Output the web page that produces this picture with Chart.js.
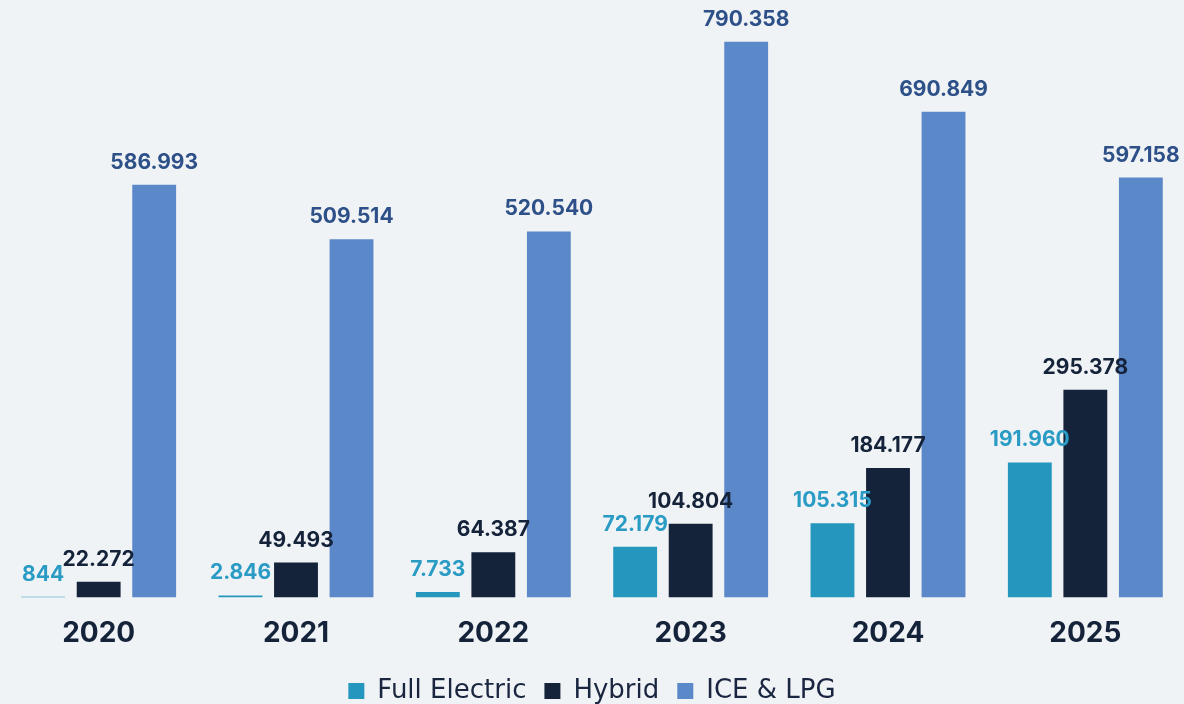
<!DOCTYPE html>
<html>
<head>
<meta charset="utf-8">
<script src="https://cdn.jsdelivr.net/npm/chart.js@4"></script>
<style>
  html, body { margin: 0; padding: 0; background: #eff3f5; }
  #wrap { width: 1184px; height: 704px; }
</style>
</head>
<body>
<div id="wrap"><canvas id="myChart"></canvas></div>
<script>
// values
const years = ['2020', '2021', '2022', '2023', '2024', '2025'];
const fullElectric = [844, 2846, 7733, 72179, 105315, 191960];
const hybrid = [22272, 49493, 64387, 104804, 184177, 295378];
const iceLpg = [586993, 509514, 520540, 790358, 690849, 597158];

const barColors = ['#2596be', '#14223a', '#5b88c8'];
const labelColors = ['#2a9bc4', '#14223a', '#2e5088'];

const fontFamily = 'Inter, "Open Sans", sans-serif';
const legendFont = '"DejaVu Sans", sans-serif';

// 1234567 -> 1.234.567
function fmt(v) {
    return String(v).replace(/\B(?=(\d{3})+(?!\d))/g, '.');
}

const valueLabels = {
    id: 'valueLabels',
    afterDatasetsDraw: (chart) => {
        const {ctx} = chart;
        ctx.save();
        ctx.font = 'bold 21px ' + fontFamily;
        ctx.textAlign = 'center';
        ctx.textBaseline = 'alphabetic';
        chart.data.datasets.forEach((ds, i) => {
            const meta = chart.getDatasetMeta(i);
            ctx.fillStyle = labelColors[i];
            meta.data.forEach((bar, j) => {
                ctx.fillText(fmt(ds.data[j]), bar.x, bar.y - 16);
            });
        });
        ctx.restore();
    }
};

// pull the legend a bit closer to the bottom edge
const legendTrim = {
    id: 'legendTrim',
    beforeInit: (chart) => {
        const origFit = chart.legend.fit;
        chart.legend.fit = function () {
            origFit.bind(chart.legend)();
            this.height -= 10;
        };
    }
};

const data = {
    labels: years,
    datasets: [
        { label: 'Full Electric', data: fullElectric, backgroundColor: barColors[0] },
        { label: 'Hybrid', data: hybrid, backgroundColor: barColors[1] },
        { label: 'ICE & LPG', data: iceLpg, backgroundColor: barColors[2] }
    ]
};

const config = {
    type: 'bar',
    data: data,
    options: {
        responsive: true,
        maintainAspectRatio: false,
        animation: false,
        categoryPercentage: 0.844,
        barPercentage: 0.79,
        layout: { padding: { top: 35, left: 0, right: 0, bottom: 0 } },
        scales: {
            x: {
                grid: { display: false, drawTicks: false },
                border: { display: false },
                ticks: {
                    color: '#14223a',
                    padding: 19,
                    font: { family: fontFamily, size: 28, weight: 'bold' }
                },
                afterFit: (axis) => { axis.height -= 9; }
            },
            y: {
                display: false,
                min: 0,
                max: 800000
            }
        },
        plugins: {
            tooltip: { enabled: false },
            legend: {
                position: 'bottom',
                labels: {
                    color: '#1a2540',
                    boxWidth: 16,
                    boxHeight: 16,
                    padding: 18,
                    font: { family: legendFont, size: 26 }
                }
            }
        }
    },
    plugins: [valueLabels, legendTrim]
};

const myChart = new Chart(document.getElementById('myChart'), config);
</script>
</body>
</html>
